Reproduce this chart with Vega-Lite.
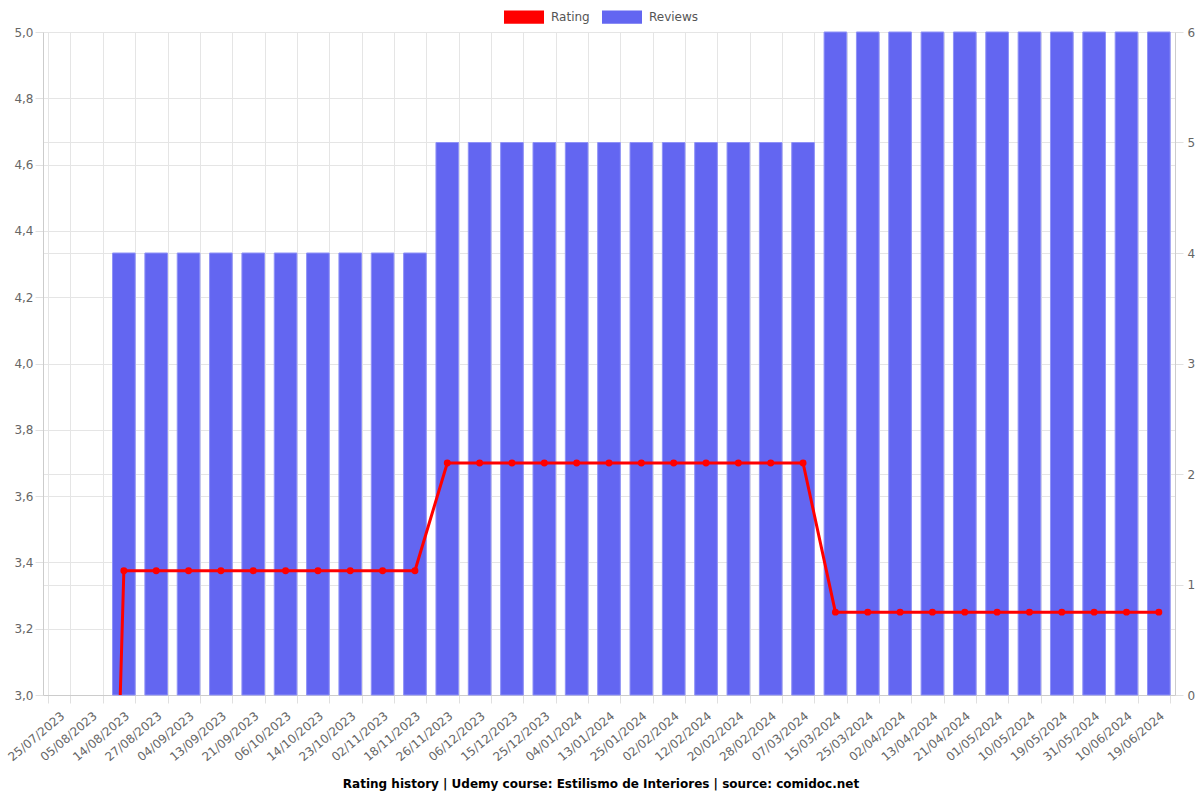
{
  "$schema": "https://vega.github.io/schema/vega-lite/v6.json",
  "width": 1132,
  "height": 663,
  "autosize": {"type": "none"},
  "padding": {"left": 43, "top": 32, "right": 25, "bottom": 105},
  "background": "white",
  "title": {
    "text": "Rating history | Udemy course: Estilismo de Interiores | source: comidoc.net",
    "orient": "bottom",
    "anchor": "middle",
    "font": "DejaVu Sans",
    "fontSize": 12,
    "fontWeight": "bold",
    "color": "#000000",
    "offset": 16,
    "dx": -8
  },
  "config": {
    "font": "DejaVu Sans",
    "view": {"stroke": null},
    "axis": {
      "labelFont": "DejaVu Sans",
      "labelFontSize": 12,
      "labelColor": "#666666",
      "gridColor": "#e5e5e5",
      "tickColor": "#e0e0e0",
      "domainColor": "#cccccc",
      "tickSize": 8,
      "title": null
    }
  },
  "data": {
    "values": [
      {"date": "25/07/2023", "rating": 0, "reviews": 0},
      {"date": "05/08/2023", "rating": 0, "reviews": 0},
      {"date": "14/08/2023", "rating": 3.375, "reviews": 4},
      {"date": "27/08/2023", "rating": 3.375, "reviews": 4},
      {"date": "04/09/2023", "rating": 3.375, "reviews": 4},
      {"date": "13/09/2023", "rating": 3.375, "reviews": 4},
      {"date": "21/09/2023", "rating": 3.375, "reviews": 4},
      {"date": "06/10/2023", "rating": 3.375, "reviews": 4},
      {"date": "14/10/2023", "rating": 3.375, "reviews": 4},
      {"date": "23/10/2023", "rating": 3.375, "reviews": 4},
      {"date": "02/11/2023", "rating": 3.375, "reviews": 4},
      {"date": "18/11/2023", "rating": 3.375, "reviews": 4},
      {"date": "26/11/2023", "rating": 3.7, "reviews": 5},
      {"date": "06/12/2023", "rating": 3.7, "reviews": 5},
      {"date": "15/12/2023", "rating": 3.7, "reviews": 5},
      {"date": "25/12/2023", "rating": 3.7, "reviews": 5},
      {"date": "04/01/2024", "rating": 3.7, "reviews": 5},
      {"date": "13/01/2024", "rating": 3.7, "reviews": 5},
      {"date": "25/01/2024", "rating": 3.7, "reviews": 5},
      {"date": "02/02/2024", "rating": 3.7, "reviews": 5},
      {"date": "12/02/2024", "rating": 3.7, "reviews": 5},
      {"date": "20/02/2024", "rating": 3.7, "reviews": 5},
      {"date": "28/02/2024", "rating": 3.7, "reviews": 5},
      {"date": "07/03/2024", "rating": 3.7, "reviews": 5},
      {"date": "15/03/2024", "rating": 3.25, "reviews": 6},
      {"date": "25/03/2024", "rating": 3.25, "reviews": 6},
      {"date": "02/04/2024", "rating": 3.25, "reviews": 6},
      {"date": "13/04/2024", "rating": 3.25, "reviews": 6},
      {"date": "21/04/2024", "rating": 3.25, "reviews": 6},
      {"date": "01/05/2024", "rating": 3.25, "reviews": 6},
      {"date": "10/05/2024", "rating": 3.25, "reviews": 6},
      {"date": "19/05/2024", "rating": 3.25, "reviews": 6},
      {"date": "31/05/2024", "rating": 3.25, "reviews": 6},
      {"date": "10/06/2024", "rating": 3.25, "reviews": 6},
      {"date": "19/06/2024", "rating": 3.25, "reviews": 6}
    ]
  },
  "encoding": {
    "x": {
      "field": "date",
      "type": "nominal",
      "sort": null,
      "scale": {"paddingInner": 0.3, "paddingOuter": 0.15},
      "axis": {
        "tickBand": "extent",
        "labelAngle": -40,
        "labelAlign": "right",
        "labelBaseline": "top",
        "labelPadding": 7,
        "grid": true
      }
    }
  },
  "layer": [
    {
      "mark": {"type": "bar", "stroke": "#8f92f7", "strokeWidth": 1},
      "encoding": {
        "y": {
          "field": "reviews",
          "type": "quantitative",
          "scale": {"domain": [0, 6], "nice": false},
          "axis": {"orient": "right", "values": [0, 1, 2, 3, 4, 5, 6], "grid": true, "labelPadding": 4}
        },
        "strokeOpacity": {
          "condition": {"test": "datum.reviews > 0", "value": 1},
          "value": 0
        },
        "color": {
          "datum": "Reviews",
          "type": "nominal",
          "scale": {"domain": ["Rating", "Reviews"], "range": ["#FF0000", "#6366F1"]},
          "legend": {
            "orient": "none",
            "direction": "horizontal",
            "legendX": 461,
            "legendY": -35,
            "title": null,
            "symbolType": "M-1,-0.33H1V0.33H-1Z",
            "symbolSize": 1600,
            "symbolStrokeWidth": 0,
            "symbolOpacity": 1,
            "labelFont": "DejaVu Sans",
            "labelFontSize": 12,
            "labelColor": "#555555",
            "columnPadding": 12,
            "labelOffset": 7
          }
        }
      }
    },
    {
      "layer": [
        {
          "mark": {"type": "line", "color": "#FF0000", "strokeWidth": 3, "clip": true},
          "encoding": {
            "y": {
              "field": "rating",
              "type": "quantitative",
              "scale": {"domain": [3, 5], "nice": false},
              "axis": {
                "orient": "left",
                "values": [3, 3.2, 3.4, 3.6, 3.8, 4, 4.2, 4.4, 4.6, 4.8, 5],
                "labelExpr": "replace(format(datum.value, '.1f'), '.', ',')",
                "grid": true
              }
            }
          }
        },
        {
          "mark": {"type": "point", "filled": true, "color": "#FF0000", "opacity": 1, "size": 48, "clip": true},
          "encoding": {
            "y": {"field": "rating", "type": "quantitative"}
          }
        }
      ]
    }
  ],
  "resolve": {"scale": {"y": "independent"}}
}
